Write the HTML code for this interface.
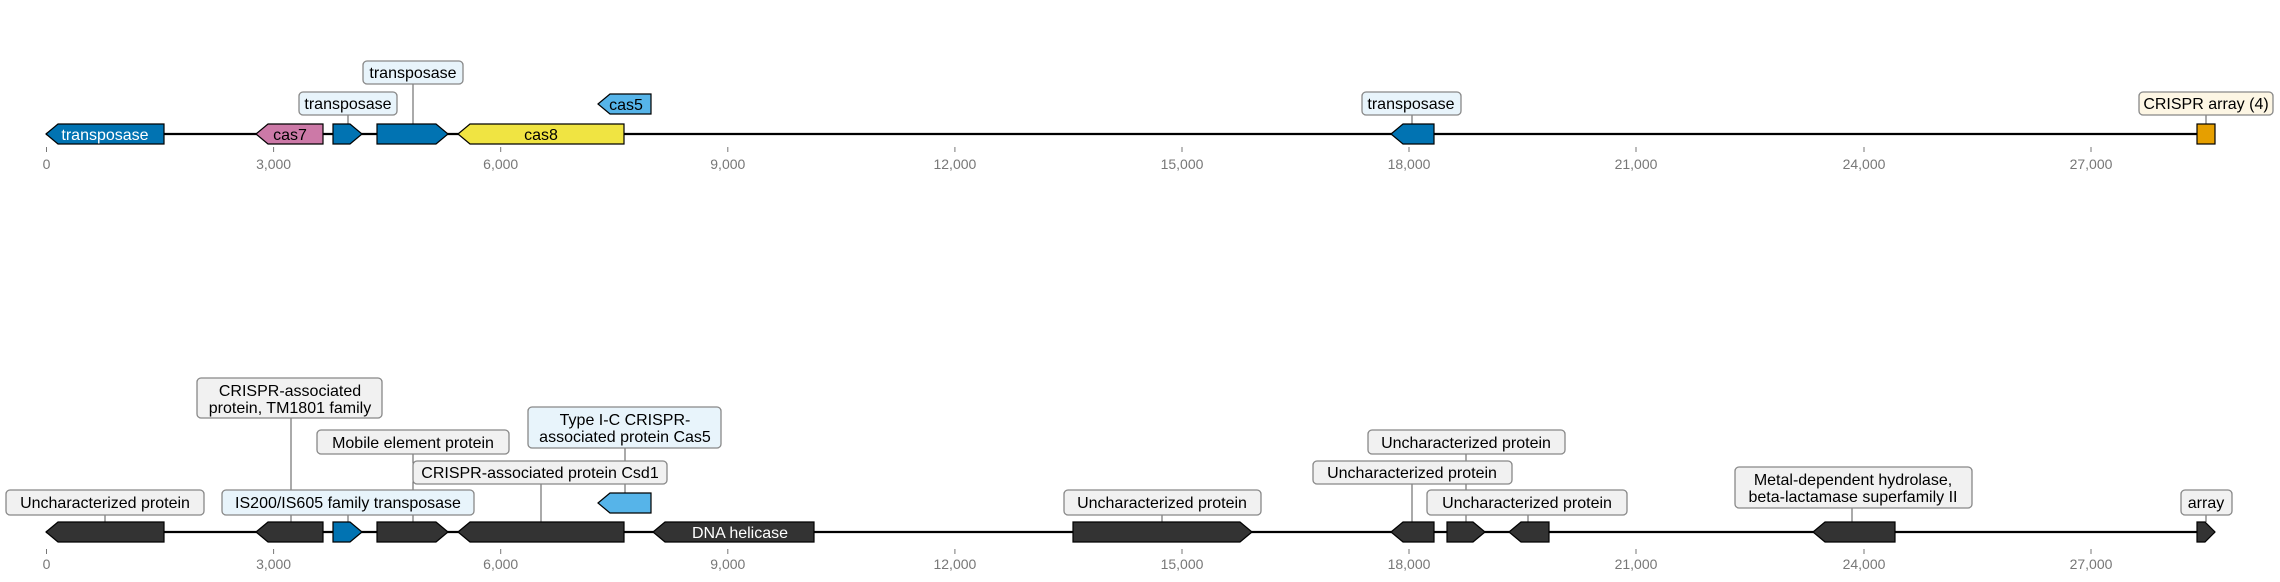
<!DOCTYPE html>
<html><head><meta charset="utf-8"><style>
html,body{margin:0;padding:0;background:#fff;}
svg{display:block;}
text{font-family:"Liberation Sans","DejaVu Sans",sans-serif;}
.t{font-size:14px;fill:#777;text-anchor:middle;}
.l{font-size:16px;fill:#000;text-anchor:middle;}
.bx{stroke:#888;stroke-width:1.3;}
.g{stroke:#000;stroke-width:1.2;}
.ln{stroke:#555;stroke-width:1;}
</style></head><body>
<svg width="2280" height="582" viewBox="0 0 2280 582" xmlns="http://www.w3.org/2000/svg">
<!-- TOP ROW -->
<line x1="46" y1="134" x2="2215" y2="134" stroke="#000" stroke-width="2.2"/>
<g class="t">
<line x1="46.5" y1="147" x2="46.5" y2="152" stroke="#777"/><text x="46.5" y="169">0</text>
<line x1="273.6" y1="147" x2="273.6" y2="152" stroke="#777"/><text x="273.6" y="169">3,000</text>
<line x1="500.7" y1="147" x2="500.7" y2="152" stroke="#777"/><text x="500.7" y="169">6,000</text>
<line x1="727.8" y1="147" x2="727.8" y2="152" stroke="#777"/><text x="727.8" y="169">9,000</text>
<line x1="954.9" y1="147" x2="954.9" y2="152" stroke="#777"/><text x="954.9" y="169">12,000</text>
<line x1="1182" y1="147" x2="1182" y2="152" stroke="#777"/><text x="1182" y="169">15,000</text>
<line x1="1409" y1="147" x2="1409" y2="152" stroke="#777"/><text x="1409" y="169">18,000</text>
<line x1="1636" y1="147" x2="1636" y2="152" stroke="#777"/><text x="1636" y="169">21,000</text>
<line x1="1864" y1="147" x2="1864" y2="152" stroke="#777"/><text x="1864" y="169">24,000</text>
<line x1="2091" y1="147" x2="2091" y2="152" stroke="#777"/><text x="2091" y="169">27,000</text>
</g>
<!-- label lines top -->
<line class="ln" x1="348" y1="115" x2="348" y2="124"/>
<line class="ln" x1="413" y1="84" x2="413" y2="124"/>
<line class="ln" x1="1412" y1="115" x2="1412" y2="124"/>
<line class="ln" x1="2206" y1="115" x2="2206" y2="124"/>
<!-- genes top -->
<polygon class="g" fill="#0173B2" points="46,134 58,124 164,124 164,144 58,144"/>
<text x="105" y="140" class="l" fill="#fff" style="fill:#fff">transposase</text>
<polygon class="g" fill="#CC79A7" points="256,134 268,124 323,124 323,144 268,144"/>
<text x="290" y="140" class="l">cas7</text>
<polygon class="g" fill="#0173B2" points="333,124 350,124 362,134 350,144 333,144"/>
<polygon class="g" fill="#0173B2" points="377,124 436,124 448,134 436,144 377,144"/>
<polygon class="g" fill="#F0E442" points="458,134 470,124 624,124 624,144 470,144"/>
<text x="541" y="140" class="l">cas8</text>
<polygon class="g" fill="#56B4E9" points="598,104 610,94 651,94 651,114 610,114"/>
<text x="626" y="110" class="l">cas5</text>
<polygon class="g" fill="#0173B2" points="1391,134 1403,124 1434,124 1434,144 1403,144"/>
<rect class="g" fill="#E69F00" x="2197" y="124" width="18" height="20"/>
<!-- label boxes top -->
<rect class="bx" fill="#e8f4fb" x="299" y="92" width="98" height="23" rx="4"/>
<text x="348" y="109" class="l">transposase</text>
<rect class="bx" fill="#e8f4fb" x="363" y="61" width="100" height="23" rx="4"/>
<text x="413" y="78" class="l">transposase</text>
<rect class="bx" fill="#e8f4fb" x="1362" y="92" width="99" height="23" rx="4"/>
<text x="1411" y="109" class="l">transposase</text>
<rect class="bx" fill="#fdf6e4" x="2139" y="92" width="134" height="23" rx="4"/>
<text x="2206" y="109" class="l">CRISPR array (4)</text>

<!-- BOTTOM ROW -->
<line x1="46" y1="532" x2="2215" y2="532" stroke="#000" stroke-width="2.2"/>
<g class="t">
<line x1="46.5" y1="549" x2="46.5" y2="554" stroke="#777"/><text x="46.5" y="569">0</text>
<line x1="273.6" y1="549" x2="273.6" y2="554" stroke="#777"/><text x="273.6" y="569">3,000</text>
<line x1="500.7" y1="549" x2="500.7" y2="554" stroke="#777"/><text x="500.7" y="569">6,000</text>
<line x1="727.8" y1="549" x2="727.8" y2="554" stroke="#777"/><text x="727.8" y="569">9,000</text>
<line x1="954.9" y1="549" x2="954.9" y2="554" stroke="#777"/><text x="954.9" y="569">12,000</text>
<line x1="1182" y1="549" x2="1182" y2="554" stroke="#777"/><text x="1182" y="569">15,000</text>
<line x1="1409" y1="549" x2="1409" y2="554" stroke="#777"/><text x="1409" y="569">18,000</text>
<line x1="1636" y1="549" x2="1636" y2="554" stroke="#777"/><text x="1636" y="569">21,000</text>
<line x1="1864" y1="549" x2="1864" y2="554" stroke="#777"/><text x="1864" y="569">24,000</text>
<line x1="2091" y1="549" x2="2091" y2="554" stroke="#777"/><text x="2091" y="569">27,000</text>
</g>
<!-- label lines bottom -->
<line class="ln" x1="105" y1="515" x2="105" y2="522"/>
<line class="ln" x1="291" y1="418" x2="291" y2="522"/>
<line class="ln" x1="348" y1="515" x2="348" y2="522"/>
<line class="ln" x1="413" y1="454" x2="413" y2="522"/>
<line class="ln" x1="541" y1="484" x2="541" y2="522"/>
<line class="ln" x1="625" y1="448" x2="625" y2="493"/>
<line class="ln" x1="1162" y1="515" x2="1162" y2="522"/>
<line class="ln" x1="1466" y1="454" x2="1466" y2="522"/>
<line class="ln" x1="1412" y1="484" x2="1412" y2="522"/>
<line class="ln" x1="1528" y1="515" x2="1528" y2="522"/>
<line class="ln" x1="1852" y1="508" x2="1852" y2="522"/>
<line class="ln" x1="2206" y1="515" x2="2206" y2="522"/>
<!-- genes bottom -->
<polygon class="g" fill="#333" points="46,532 58,522 164,522 164,542 58,542"/>
<polygon class="g" fill="#333" points="256,532 268,522 323,522 323,542 268,542"/>
<polygon class="g" fill="#0173B2" points="333,522 350,522 362,532 350,542 333,542"/>
<polygon class="g" fill="#333" points="377,522 436,522 448,532 436,542 377,542"/>
<polygon class="g" fill="#333" points="458,532 470,522 624,522 624,542 470,542"/>
<polygon class="g" fill="#56B4E9" points="598,503 610,493 651,493 651,513 610,513"/>
<polygon class="g" fill="#333" points="653,532 665,522 814,522 814,542 665,542"/>
<text x="740" y="538" class="l" style="fill:#fff">DNA helicase</text>
<polygon class="g" fill="#333" points="1073,522 1240,522 1252,532 1240,542 1073,542"/>
<polygon class="g" fill="#333" points="1391,532 1403,522 1434,522 1434,542 1403,542"/>
<polygon class="g" fill="#333" points="1447,522 1473,522 1485,532 1473,542 1447,542"/>
<polygon class="g" fill="#333" points="1509,532 1521,522 1549,522 1549,542 1521,542"/>
<polygon class="g" fill="#333" points="1813,532 1825,522 1895,522 1895,542 1825,542"/>
<polygon class="g" fill="#333" points="2197,522 2205,522 2215,532 2205,542 2197,542"/>
<!-- label boxes bottom -->
<rect class="bx" fill="#f1f1f1" x="6" y="490" width="198" height="25" rx="4"/>
<text x="105" y="508" class="l">Uncharacterized protein</text>
<rect class="bx" fill="#f1f1f1" x="197" y="378" width="185" height="40" rx="4"/>
<text x="290" y="396" class="l">CRISPR-associated</text>
<text x="290" y="413" class="l">protein, TM1801 family</text>
<rect class="bx" fill="#e8f4fb" x="222" y="490" width="252" height="25" rx="4"/>
<text x="348" y="508" class="l">IS200/IS605 family transposase</text>
<rect class="bx" fill="#f1f1f1" x="317" y="430" width="192" height="24" rx="4"/>
<text x="413" y="448" class="l">Mobile element protein</text>
<rect class="bx" fill="#f1f1f1" x="413" y="461" width="254" height="23" rx="4"/>
<text x="540" y="478" class="l">CRISPR-associated protein Csd1</text>
<rect class="bx" fill="#e8f4fb" x="528" y="407" width="193" height="41" rx="4"/>
<text x="625" y="425" class="l">Type I-C CRISPR-</text>
<text x="625" y="442" class="l">associated protein Cas5</text>
<rect class="bx" fill="#f1f1f1" x="1064" y="490" width="197" height="25" rx="4"/>
<text x="1162" y="508" class="l">Uncharacterized protein</text>
<rect class="bx" fill="#f1f1f1" x="1368" y="430" width="197" height="24" rx="4"/>
<text x="1466" y="448" class="l">Uncharacterized protein</text>
<rect class="bx" fill="#f1f1f1" x="1313" y="461" width="199" height="23" rx="4"/>
<text x="1412" y="478" class="l">Uncharacterized protein</text>
<rect class="bx" fill="#f1f1f1" x="1427" y="490" width="200" height="25" rx="4"/>
<text x="1527" y="508" class="l">Uncharacterized protein</text>
<rect class="bx" fill="#f1f1f1" x="1735" y="467" width="237" height="41" rx="4"/>
<text x="1853" y="485" class="l">Metal-dependent hydrolase,</text>
<text x="1853" y="502" class="l">beta-lactamase superfamily II</text>
<rect class="bx" fill="#f1f1f1" x="2181" y="490" width="51" height="25" rx="4"/>
<text x="2206" y="508" class="l">array</text>
</svg>
</body></html>
